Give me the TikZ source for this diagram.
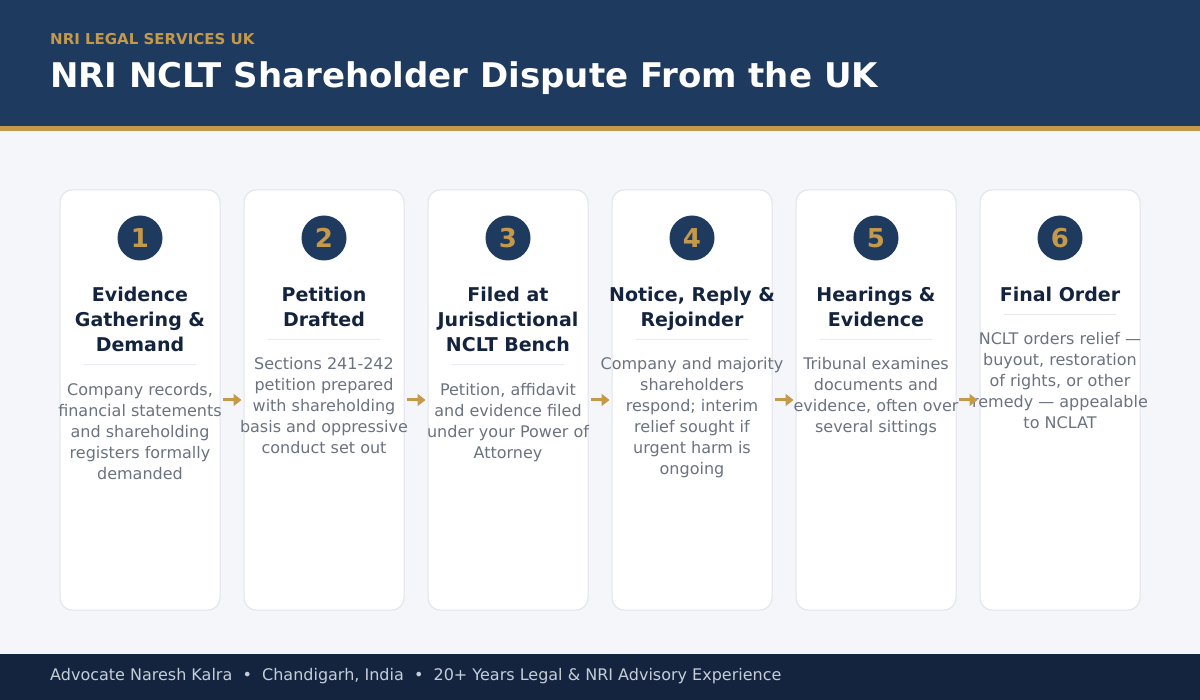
\documentclass[tikz,border=0pt]{standalone}
\usepackage{fontspec}
\setmainfont{DejaVu Sans}
\usetikzlibrary{arrows.meta}

\definecolor{navy}{HTML}{1F3A5F}
\definecolor{navydark}{HTML}{14243F}
\definecolor{gold}{HTML}{C4994A}
\definecolor{pagebg}{HTML}{F5F6FA}
\definecolor{cardline}{HTML}{E1E4EC}
\definecolor{bodygray}{HTML}{6B7280}
\definecolor{foottext}{HTML}{C5CDD9}

\tikzset{
  card/.style={draw=cardline, line width=1pt, fill=white, rounded corners=12pt,
    minimum width=160pt, minimum height=420pt, inner sep=0pt},
  badge/.style={circle, fill=navy, minimum size=45pt, inner sep=0pt, text=gold,
    font=\fontsize{26}{26}\selectfont\bfseries},
  steptitle/.style={anchor=north, align=center, inner sep=0pt, text=navydark,
    font=\fontsize{19}{25}\selectfont\bfseries},
  stepbody/.style={anchor=north, align=center, inner sep=0pt, text=bodygray,
    font=\fontsize{16}{21}\selectfont},
  cardrule/.style={draw=cardline!80, line width=1pt},
  flow/.style={draw=gold, line width=3pt, -{Triangle[length=8pt,width=12pt]},
    shorten <=2pt, shorten >=2pt}
}

\begin{document}
\begin{tikzpicture}[x=1pt, y=-1pt]

  \useasboundingbox (0,0) rectangle (1200,700);
  \fill[pagebg] (0,0) rectangle (1200,700);

  % header and footer bands
  \fill[navy] (0,0) rectangle (1200,126);
  \fill[gold] (0,126) rectangle (1200,131);
  \fill[navydark] (0,654) rectangle (1200,700);

  \node[anchor=west, inner sep=0pt, text=gold, font=\fontsize{15}{15}\selectfont\bfseries]
    (kicker) at (50,39) {NRI LEGAL SERVICES UK};
  \node[anchor=base west, inner sep=0pt, text=white, font=\fontsize{34}{34}\selectfont\bfseries]
    (title) at (50,88) {NRI NCLT Shareholder Dispute From the UK};
  \node[anchor=base west, inner sep=0pt, text=foottext, font=\fontsize{16}{16}\selectfont]
    (footer) at (50,680) {Advocate Naresh Kalra \ \textbullet\ \ Chandigarh, India \ \textbullet\ \ 20+ Years Legal \& NRI Advisory Experience};

  % cards
  \node[card] (c1) at (140,400) {};
  \node[card] (c2) at (324,400) {};
  \node[card] (c3) at (508,400) {};
  \node[card] (c4) at (692,400) {};
  \node[card] (c5) at (876,400) {};
  \node[card] (c6) at (1060,400) {};

  \begin{scope}[every node/.style={badge}]
    \node (b1) at (140,238) {1};
    \node (b2) at (324,238) {2};
    \node (b3) at (508,238) {3};
    \node (b4) at (692,238) {4};
    \node (b5) at (876,238) {5};
    \node (b6) at (1060,238) {6};
  \end{scope}

  \begin{scope}[every node/.style={steptitle}]
    \node (t1) at (140,287) {Evidence\\Gathering \&\\Demand};
    \node (t2) at (324,287) {Petition\\Drafted};
    \node (t3) at (508,287) {Filed at\\Jurisdictional\\NCLT Bench};
    \node (t4) at (692,287) {Notice, Reply \&\\Rejoinder};
    \node (t5) at (876,287) {Hearings \&\\Evidence};
    \node (t6) at (1060,287) {Final Order};
  \end{scope}

  \draw[cardrule] (84,365) -- (196,365);
  \draw[cardrule] (268,340) -- (380,340);
  \draw[cardrule] (452,365) -- (564,365);
  \draw[cardrule] (636,340) -- (748,340);
  \draw[cardrule] (820,340) -- (932,340);
  \draw[cardrule] (1004,315) -- (1116,315);

  \begin{scope}[every node/.style={stepbody}]
    \node (d1) at (140,383) {Company records,\\financial statements\\and shareholding\\registers formally\\demanded};
    \node (d2) at (324,357) {Sections 241-242\\petition prepared\\with shareholding\\basis and oppressive\\conduct set out};
    \node (d3) at (508,383) {Petition, affidavit\\and evidence filed\\under your Power of\\Attorney};
    \node (d4) at (692,357) {Company and majority\\shareholders\\respond; interim\\relief sought if\\urgent harm is\\ongoing};
    \node (d5) at (876,357) {Tribunal examines\\documents and\\evidence, often over\\several sittings};
    \node (d6) at (1060,332) {NCLT orders relief ---\\buyout, restoration\\of rights, or other\\remedy --- appealable\\to NCLAT};
  \end{scope}

  \draw[flow] (c1) -- (c2);
  \draw[flow] (c2) -- (c3);
  \draw[flow] (c3) -- (c4);
  \draw[flow] (c4) -- (c5);
  \draw[flow] (c5) -- (c6);

\end{tikzpicture}
\end{document}
